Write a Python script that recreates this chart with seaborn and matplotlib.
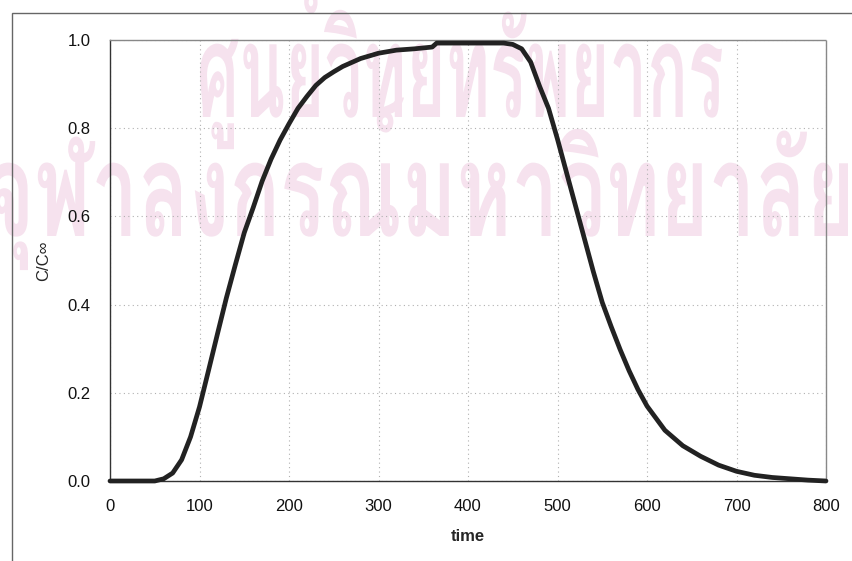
import matplotlib
matplotlib.use("Agg")
import pandas as pd
import seaborn as sns
import matplotlib.pyplot as plt
from matplotlib.textpath import TextPath
from matplotlib.patches import PathPatch, Rectangle
from matplotlib.font_manager import FontProperties
from matplotlib.transforms import Affine2D

# breakthrough curve
time = [0, 40, 50, 60, 70, 80, 90, 100,
        110, 120, 130, 140, 150, 160, 170, 180, 190, 200, 210, 220, 230, 240, 250, 260,
        280, 300, 320, 340, 360, 365, 400, 440,
        450, 460, 470, 480, 490, 500, 510, 520, 530, 540, 550, 560, 570, 580, 590, 600,
        620, 640, 660, 680, 700, 720, 740, 760, 780, 800]
conc = [0, 0, 0.0, 0.005, 0.018, 0.048, 0.10, 0.168,
        0.25, 0.333, 0.415, 0.49, 0.563, 0.62, 0.68, 0.73, 0.773, 0.81, 0.845, 0.872, 0.897, 0.915, 0.928, 0.94,
        0.958, 0.97, 0.977, 0.98, 0.984, 0.993, 0.993, 0.993,
        0.99, 0.98, 0.95, 0.895, 0.845, 0.775, 0.70, 0.625, 0.55, 0.475, 0.405, 0.35, 0.298, 0.25, 0.207, 0.17,
        0.115, 0.08, 0.056, 0.036, 0.022, 0.013, 0.008, 0.005, 0.002, 0.0]

x_ticks = [0, 100, 200, 300, 400, 500, 600, 700, 800]
y_ticks = [0.0, 0.2, 0.4, 0.6, 0.8, 1.0]

# library stamp printed over the scanned page
stamp_lines = ["ศูนย์วิทยทรัพยากร", "จุฬาลงกรณ์มหาวิทยาลัย"]

df = pd.DataFrame({"time": time, "C/C∞": conc})

sns.set_style("white")
plt.rcParams["font.family"] = ["Liberation Sans", "DejaVu Sans"]

W, H = 852, 561
fig = plt.figure(figsize=(W / 100, H / 100), dpi=100)
ax = fig.add_axes([110 / W, 1 - 481 / H, 716 / W, 441 / H])
ax.set_facecolor("none")

# watermark, squeezed into the pixel boxes it covers on the page
thai = FontProperties(family="Loma", weight="bold")
body = TextPath((0, 0), "น", size=100, prop=thai).get_extents().height
boxes = [(200, 722, 117), (-10, 848, 236)]
for txt, (x0, x1, base) in zip(stamp_lines, boxes):
    tp = TextPath((0, 0), txt, size=100, prop=thai)
    ext = tp.get_extents()
    sx = (x1 - x0) / ext.width
    sy = 74 / body
    tr = Affine2D().translate(-ext.x0, 0).scale(sx / W, sy / H).translate(x0 / W, 1 - base / H)
    fig.add_artist(PathPatch(tp, transform=tr + fig.transFigure, facecolor="#f6e2ee",
                             edgecolor="none", zorder=0))

# chart-area border (only left/top edges are on the scan)
fig.add_artist(Rectangle((12 / W, -0.1), 1.2, 1.1 - 13 / H, transform=fig.transFigure,
                         fill=False, edgecolor="#666666", linewidth=1.0, zorder=1))

sns.lineplot(data=df, x="time", y="C/C∞", ax=ax, color="#222222", linewidth=3.4,
             clip_on=False, zorder=5)

ax.set_xlim(0, 800)
ax.set_ylim(0, 1.0)
ax.set_xticks(x_ticks)
ax.set_yticks(y_ticks)
ax.set_xticklabels([str(v) for v in x_ticks], fontsize=12)
ax.set_yticklabels([f"{v:.1f}" for v in y_ticks], fontsize=12)
ax.tick_params(axis="x", direction="out", length=4, width=0.8, pad=9, colors="#333333", labelcolor="#111111")
ax.tick_params(axis="y", direction="out", length=5, width=0.8, pad=9, colors="#333333", labelcolor="#111111")

ax.grid(True, linestyle=(0, (1, 3)), color="#b0b0b0", linewidth=0.8)
for side in ["left", "bottom"]:
    ax.spines[side].set_color("#333333")
    ax.spines[side].set_linewidth(1.0)
for side in ["top", "right"]:
    ax.spines[side].set_color("#888888")
    ax.spines[side].set_linestyle((0, (1, 1)))
    ax.spines[side].set_linewidth(1.0)

ax.set_xlabel("time", fontsize=12, fontweight="bold", labelpad=11)
ax.set_ylabel("C/C∞", fontsize=12, labelpad=12)

fig.savefig("out.png", dpi=100)
